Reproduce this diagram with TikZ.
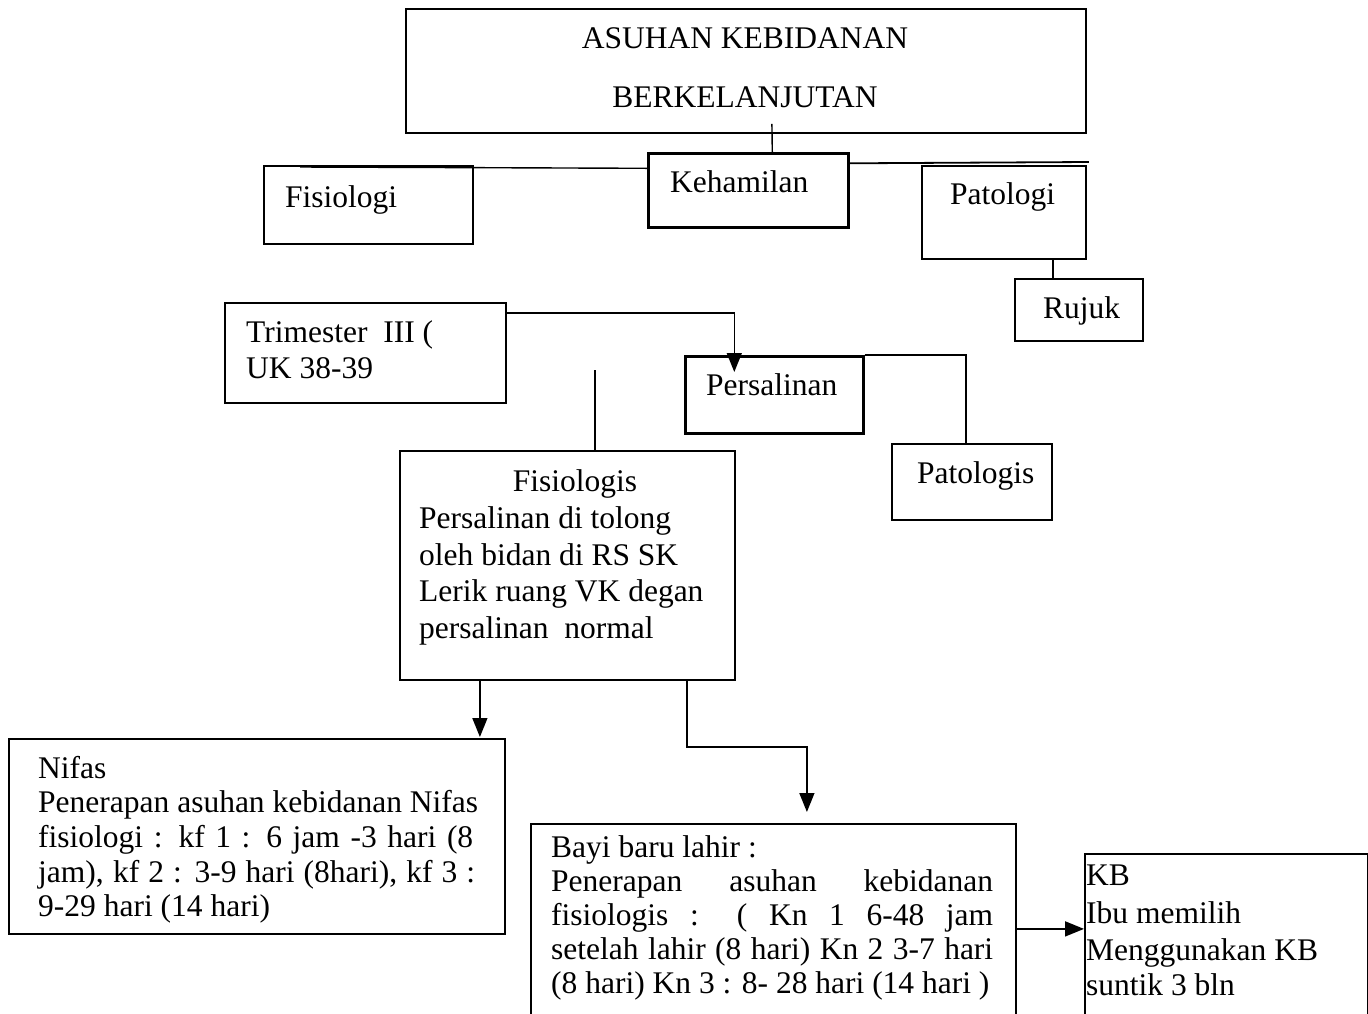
\documentclass[tikz,border=0pt]{standalone}
\usepackage{fontspec}
\setmainfont{Liberation Serif}
\usetikzlibrary{arrows.meta}
\begin{document}
\begin{tikzpicture}[x=1pt,y=-1pt,
  box/.style={draw, line width=1.8pt, rectangle, inner sep=0pt, anchor=north west},
  thickbox/.style={box, line width=2.6pt},
  conn/.style={line width=1.4pt},
  arr/.style={conn, -{Triangle[width=15pt,length=19pt]}},
  txt/.style={anchor=base west, inner sep=0pt, font=\fontsize{31.5}{34.5}\selectfont},
  ctxt/.style={txt, anchor=base}]
\clip (0,0) rectangle (1368,1013);
\fill[white] (0,0) rectangle (1368,1013);

% boxes
\node[box, minimum width=680pt, minimum height=124pt] (title) at (405,8) {};
\node[thickbox, minimum width=200pt, minimum height=74pt] (keh) at (647,152) {};
\node[box, minimum width=209pt, minimum height=78pt] (fis) at (263,165) {};
\node[box, minimum width=164pt, minimum height=93pt] (pat) at (921,165) {};
\node[box, minimum width=128pt, minimum height=62pt] (ruj) at (1014,278) {};
\node[box, minimum width=281pt, minimum height=100pt] (tri) at (224,302) {};
\node[thickbox, minimum width=178pt, minimum height=77pt] (pers) at (684,355) {};
\node[box, minimum width=160pt, minimum height=76pt] (patg) at (891,443) {};
\node[box, minimum width=335pt, minimum height=229pt] (fisg) at (399,450) {};
\node[box, minimum width=496pt, minimum height=195pt] (nifas) at (8,738) {};
\node[box, minimum width=485pt, minimum height=217pt] (bayi) at (530,823) {};
\node[box, minimum width=283pt, minimum height=187pt] (kb) at (1084,853) {};

% texts
\node[ctxt] (t1) at (745,48) {ASUHAN KEBIDANAN};
\node[ctxt] (t2) at (745,107) {BERKELANJUTAN};
\node[txt] (tkeh) at (670,192) {Kehamilan};
\node[txt] (tfis) at (285,207) {Fisiologi};
\node[txt] (tpat) at (950,204) {Patologi};
\node[txt] (truj) at (1043,318) {Rujuk};
\node[txt] (ttri1) at (246,342) {Trimester~~III (};
\node[txt] (ttri2) at (246,378) {UK 38-39};
\node[txt] (tpers) at (706,395) {Persalinan};
\node[txt] (tpatg) at (917,483) {Patologis};
\node[ctxt] (tfg1) at (575,491) {Fisiologis};
\node[txt] (tfg2) at (419,528) {Persalinan di tolong};
\node[txt] (tfg3) at (419,565) {oleh bidan di RS SK};
\node[txt] (tfg4) at (419,601) {Lerik ruang VK degan};
\node[txt] (tfg5) at (419,638) {persalinan~ normal};
\node[txt] (tn1) at (38,778) {Nifas};
\node[txt] (tn2) at (38,812) {Penerapan asuhan kebidanan Nifas};
\node[txt] (tn3) at (38,847) {\makebox[435pt][s]{fisiologi : kf 1 : 6 jam -3 hari (8}};
\node[txt] (tn4) at (38,882) {\makebox[437pt][s]{jam), kf 2 : 3-9 hari (8hari), kf 3 :}};
\node[txt] (tn5) at (38,916) {9-29 hari (14 hari)};
\node[txt] (tb1) at (551,857) {Bayi baru lahir :};
\node[txt] (tb2) at (551,891) {\makebox[442pt][s]{Penerapan asuhan kebidanan}};
\node[txt] (tb3) at (551,925) {\makebox[442pt][s]{fisiologis : ( Kn 1 6-48 jam}};
\node[txt] (tb4) at (551,959) {\makebox[442pt][s]{setelah lahir (8 hari) Kn 2 3-7 hari}};
\node[txt] (tb5) at (551,993) {(8 hari) Kn 3 : 8- 28 hari (14 hari )};
\node[txt] (tk1) at (1086,885) {KB};
\node[txt] (tk2) at (1086,923) {Ibu memilih};
\node[txt] (tk3) at (1086,960) {Menggunakan KB};
\node[txt] (tk4) at (1086,995) {suntik 3 bln};

% connectors
\draw[conn] ([xshift=26pt,yshift=10pt]title.south) -- ([xshift=24pt]keh.north);
\draw[conn] ([xshift=37pt,yshift=-2pt]fis.north west) -- ([yshift=22pt]keh.west);
\draw[conn, line width=1.8pt] ([yshift=27pt]keh.east) -- ([xshift=2pt,yshift=3pt]pat.north east);
\draw[conn] ([xshift=49pt]pat.south) -- ([xshift=-26pt]ruj.north);
\draw[arr] ([yshift=-11pt]tri.north east) -| ([xshift=-40pt,yshift=-17pt]pers.north);
\draw[conn] (pers.north east) -| ([xshift=-6pt]patg.north);
\coordinate (fgtop) at (595,370);
\draw[conn] (fgtop) -- (fgtop |- fisg.north);
\draw[arr] ([xshift=-87.5pt]fisg.south) -- ([xshift=223pt,yshift=1pt]nifas.north);
\draw[arr] ([xshift=119.5pt]fisg.south) -- ++(0,66) -| ([xshift=33.5pt,yshift=11pt]bayi.north);
\draw[arr, line width=1.8pt] ([yshift=3.5pt]bayi.east) -- ([yshift=18.5pt]kb.west);
\end{tikzpicture}
\end{document}
